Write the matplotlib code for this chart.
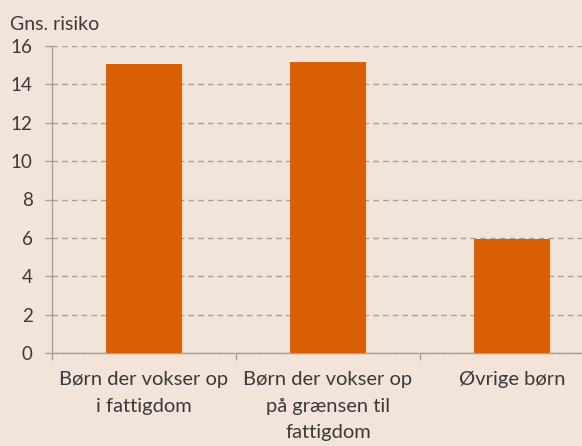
import matplotlib
matplotlib.use("Agg")
import matplotlib.pyplot as plt
import numpy as np

categories = ["Børn der vokser op\ni fattigdom",
              "Børn der vokser op\npå grænsen til\nfattigdom",
              "Øvrige børn"]
values = [15.05, 15.15, 5.95]
yticks = [0, 2, 4, 6, 8, 10, 12, 14, 16]
ylabel = "Gns. risiko"

bg = "#F2E4D8"
bar_color = "#DB5F05"
grid_color = "#A6A09B"
text_color = "#3A3A3A"

plt.rcParams['font.family'] = ['Lato', 'DejaVu Sans']

W, H = 582, 446
fig = plt.figure(figsize=(W / 100, H / 100), dpi=100, facecolor=bg)
# axes: x from 52 to 604 px, y from 46 (16) to 353 (0)
left, right = 52 / W, 604 / W
bottom, top = 1 - 353 / H, 1 - 46 / H
ax = fig.add_axes([left, bottom, right - left, top - bottom], facecolor=bg)

x = np.arange(len(categories))
ax.bar(x, values, width=0.41, color=bar_color, zorder=3)
ax.set_xlim(-0.5, len(categories) - 0.5)
ax.set_ylim(0, 16)
ax.set_yticks(yticks)
ax.yaxis.grid(True, linestyle=(0, (4, 3)), color=grid_color, linewidth=1.0, zorder=0)
ax.set_axisbelow(True)

for s in ["top", "right"]:
    ax.spines[s].set_visible(False)
for s in ["left", "bottom"]:
    ax.spines[s].set_color(grid_color)
    ax.spines[s].set_linewidth(1.0)

ax.set_xticks(x)
ax.set_xticklabels(categories, fontsize=14.5, color=text_color, linespacing=1.68, va="top")
ax.set_xticks(np.arange(-0.5, len(categories), 1.0), minor=True)
ax.tick_params(axis="x", which="major", length=0, pad=13)
ax.tick_params(axis="x", which="minor", length=5, color=grid_color, width=1.0)
ax.tick_params(axis="y", length=5, color=grid_color, width=1.0, pad=9,
               labelsize=13.5, labelcolor=text_color)

fig.text(10 / W, 1 - 30 / H, ylabel, fontsize=14, color=text_color, va="baseline")

fig.savefig("out.png", dpi=100, facecolor=bg)
